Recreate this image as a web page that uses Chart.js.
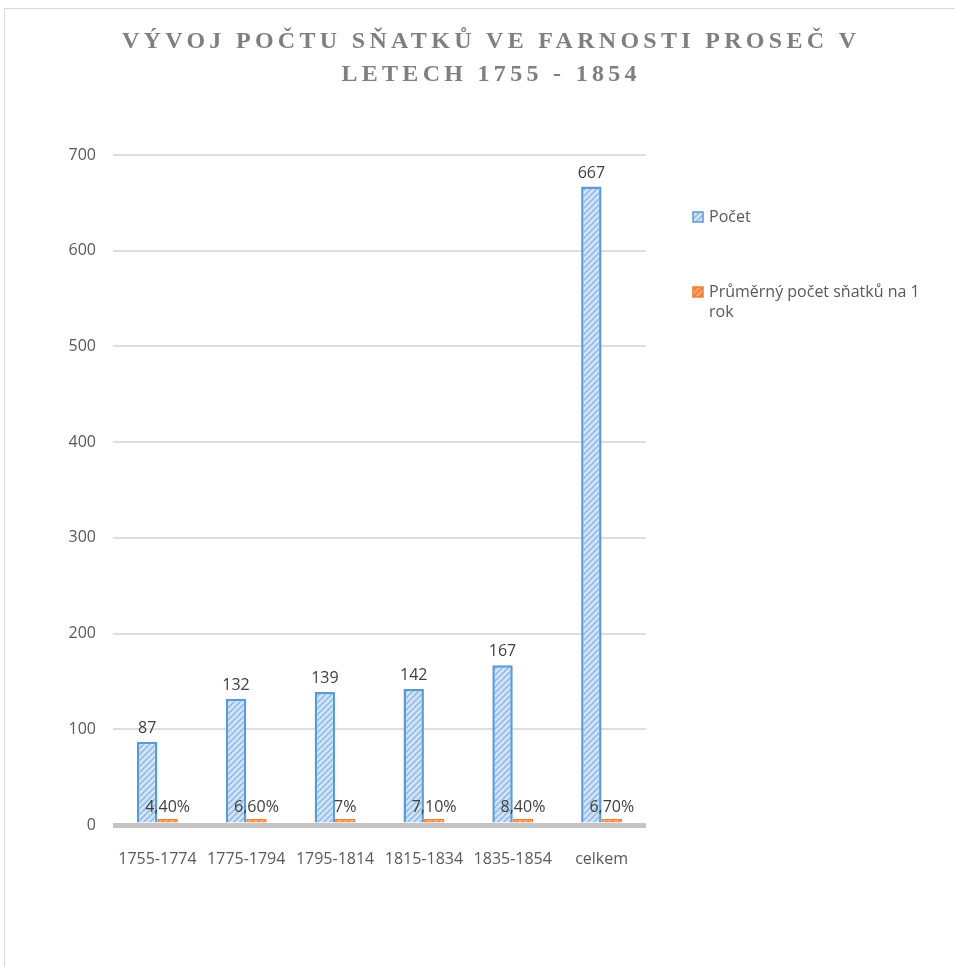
<!DOCTYPE html>
<html>
<head>
<meta charset="utf-8">
<script src="https://cdn.jsdelivr.net/npm/chart.js@4"></script>
<style>
    html, body { margin: 0; padding: 0; background: #fff; overflow: hidden; }
    #frame { position: absolute; left: 4px; top: 8px; width: 1000px; height: 1000px; border: 1.5px solid #d9d9d9; }
    #wrap { position: absolute; left: 0; top: 0; width: 955px; height: 967px; }
</style>
</head>
<body>
<div id="frame"></div>
<div id="wrap"><canvas id="myChart"></canvas></div>
<script>
const categories = ['1755-1774', '1775-1794', '1795-1814', '1815-1834', '1835-1854', 'celkem'];
const pocet = [87, 132, 139, 142, 167, 667];
const prumer = [0.044, 0.066, 0.07, 0.071, 0.084, 0.067];
const yTicks = [0, 100, 200, 300, 400, 500, 600, 700];
const titleLines = ['VÝVOJ POČTU SŇATKŮ VE FARNOSTI PROSEČ V', 'LETECH 1755 - 1854'];
const seriesNames = ['Počet', 'Průměrný počet sňatků na 1 rok'];

const ctx = document.getElementById('myChart').getContext('2d');

// šrafovaná výplň sloupců
function makeHatch(bg, line) {
    const c = document.createElement('canvas');
    c.width = 6; c.height = 6;
    const g = c.getContext('2d');
    g.fillStyle = bg;
    g.fillRect(0, 0, 6, 6);
    g.strokeStyle = line;
    g.lineWidth = 1.6;
    g.beginPath();
    g.moveTo(0, 6); g.lineTo(6, 0);
    g.moveTo(-3, 3); g.lineTo(3, -3);
    g.moveTo(3, 9); g.lineTo(9, 3);
    g.stroke();
    return ctx.createPattern(c, 'repeat');
}

const blueHatch = makeHatch('#d3e4f5', '#93bde6');
const orangeHatch = makeHatch('#f4a56e', '#ed7d31');
const colors = [
    { fill: blueHatch, border: '#5b9bd5' },
    { fill: orangeHatch, border: '#ed7d31' }
];

function fmtPct(v) {
    let s = (v * 100).toFixed(2);
    if (s.endsWith('.00')) s = s.slice(0, -3);
    return s.replace('.', ',') + '%';
}

const titlePlugin = {
    id: 'spacedTitle',
    afterDraw(chart) {
        const c = chart.ctx;
        c.save();
        c.font = 'bold 24px "Liberation Serif"';
        c.fillStyle = '#7f7f7f';
        c.textBaseline = 'alphabetic';
        c.textAlign = 'center';
        const spacing = 4.3;
        if ('letterSpacing' in c) c.letterSpacing = spacing + 'px';
        titleLines.forEach((line, i) => {
            c.fillText(line, 489 + spacing / 2, 48 + i * 33);
        });
        c.restore();
    }
};

const labelPlugin = {
    id: 'valueLabels',
    afterDatasetsDraw(chart) {
        const c = chart.ctx;
        c.save();
        c.font = '16px "Open Sans"';
        c.fillStyle = '#404040';
        c.textAlign = 'center';
        c.textBaseline = 'alphabetic';
        chart.data.datasets.forEach((ds, di) => {
            chart.getDatasetMeta(di).data.forEach((el, i) => {
                const v = ds.data[i];
                const txt = di === 0 ? String(v) : fmtPct(v);
                c.fillText(txt, el.x, el.y - (di === 0 ? 9 : 7));
            });
        });
        c.restore();
    }
};

const legendPlugin = {
    id: 'sideLegend',
    afterDraw(chart) {
        const c = chart.ctx;
        c.save();
        c.font = '16px "Open Sans"';
        c.textBaseline = 'middle';
        const x = 693, maxW = 228;
        const rows = [217, 292];
        seriesNames.forEach((name, i) => {
            const y = rows[i];
            c.fillStyle = colors[i].fill;
            c.fillRect(x, y - 5, 10, 10);
            c.strokeStyle = colors[i].border;
            c.lineWidth = 1.5;
            c.strokeRect(x, y - 5, 10, 10);
            // zalomení textu
            const words = name.split(' ');
            const lines = [];
            let cur = '';
            words.forEach(w => {
                const test = cur ? cur + ' ' + w : w;
                if (c.measureText(test).width > maxW && cur) {
                    lines.push(cur);
                    cur = w;
                } else {
                    cur = test;
                }
            });
            lines.push(cur);
            c.fillStyle = '#595959';
            lines.forEach((l, k) => c.fillText(l, x + 16, y + k * 20));
        });
        c.restore();
    }
};

new Chart(ctx, {
    type: 'bar',
    data: {
        labels: categories,
        datasets: [{
            label: seriesNames[0],
            data: pocet,
            backgroundColor: colors[0].fill,
            borderColor: colors[0].border,
            borderWidth: 2.5,
            categoryPercentage: 0.46,
            barPercentage: 1
        }, {
            label: seriesNames[1],
            data: prumer,
            backgroundColor: colors[1].fill,
            borderColor: colors[1].border,
            borderWidth: 1.5,
            minBarLength: 6,
            categoryPercentage: 0.46,
            barPercentage: 1
        }]
    },
    options: {
        responsive: true,
        maintainAspectRatio: false,
        animation: false,
        events: [],
        layout: {
            padding: { left: 0, top: 155, right: 309, bottom: 92 }
        },
        plugins: {
            legend: { display: false },
            title: { display: false },
            tooltip: { enabled: false }
        },
        scales: {
            x: {
                grid: { display: false },
                border: { display: false },
                ticks: {
                    color: '#595959',
                    font: { family: 'Open Sans', size: 16 },
                    padding: 17,
                    maxRotation: 0
                },
                afterFit(scale) { scale.height = 50; }
            },
            y: {
                min: 0,
                max: 700,
                border: { display: false },
                grid: {
                    drawTicks: false,
                    color: ctx => ctx.tick && ctx.tick.value === 0 ? '#c4c4c4' : '#dedede',
                    lineWidth: ctx => ctx.tick && ctx.tick.value === 0 ? 5 : 2
                },
                afterBuildTicks(scale) {
                    scale.ticks = yTicks.map(v => ({ value: v }));
                },
                ticks: {
                    color: '#595959',
                    font: { family: 'Open Sans', size: 16 },
                    padding: 17
                },
                afterFit(scale) { scale.width = 113; }
            }
        }
    },
    plugins: [titlePlugin, labelPlugin, legendPlugin]
});
</script>
</body>
</html>
